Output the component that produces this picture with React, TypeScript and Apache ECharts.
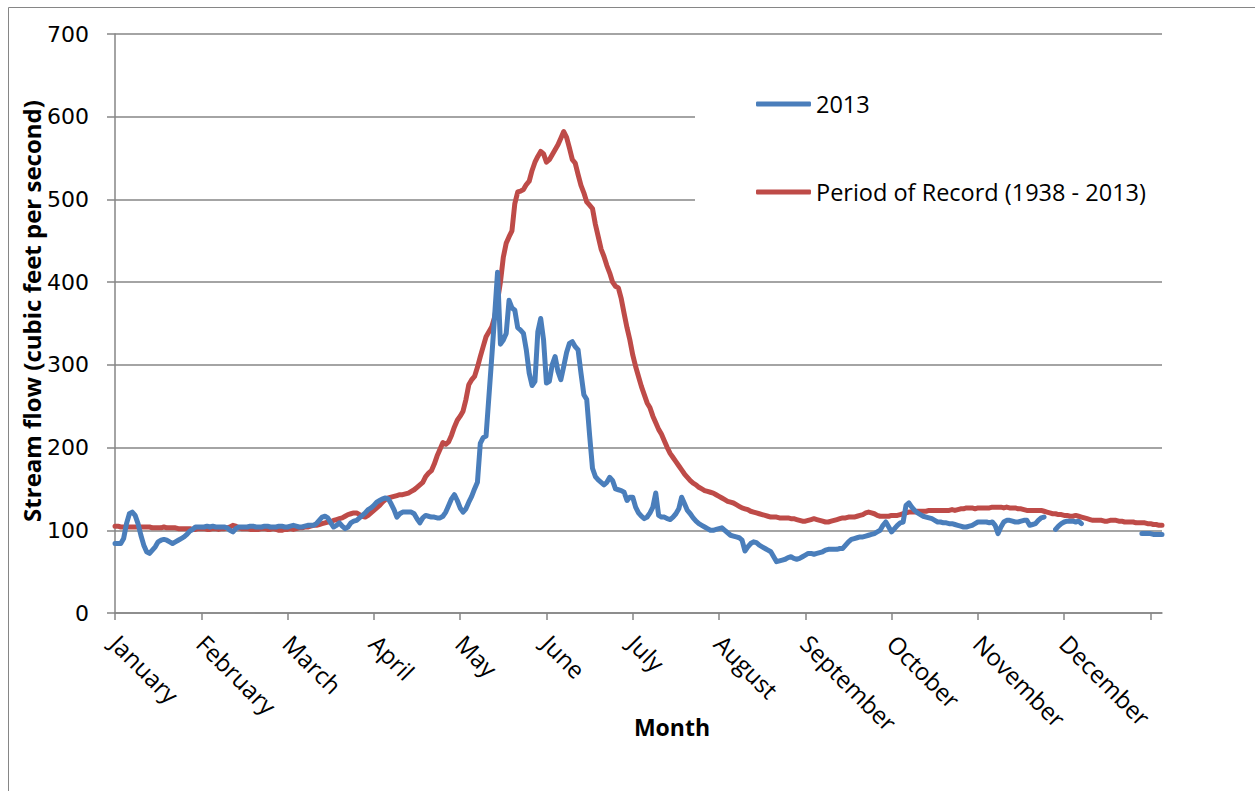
import React, { useEffect, useRef } from "react";
import * as echarts from "echarts";

const monthLabels = [
  "January", "February", "March", "April", "May", "June",
  "July", "August", "September", "October", "November", "December",
];

const yTicks = { min: 0, max: 700, step: 100 };

// Daily stream flow 2013 (cfs); null = missing record
const flow2013: (number | null)[] = [
  84, 84, 84, 90, 108, 120, 122, 118, 108, 94,
  82, 74, 72, 76, 80, 86, 88, 89, 88, 86,
  84, 86, 88, 90, 92, 95, 99, 101, 104, 104,
  104, 104, 105, 104, 105, 104, 104, 104, 104, 103,
  100, 98, 102, 104, 104, 104, 104, 105, 105, 104,
  104, 104, 105, 105, 104, 104, 104, 105, 105, 104,
  104, 105, 106, 105, 104, 104, 105, 106, 106, 106,
  108, 112, 116, 117, 115, 109, 104, 106, 109, 105,
  102, 104, 109, 111, 112, 115, 118, 121, 125, 127,
  130, 134, 136, 138, 139, 138, 132, 125, 116, 120,
  122, 122, 122, 122, 120, 114, 109, 115, 118, 117,
  116, 116, 115, 115, 117, 122, 130, 138, 143, 136,
  127, 122, 126, 134, 141, 150, 158, 205, 212, 214,
  262, 310, 360, 412, 325, 330, 338, 378, 369, 366,
  345, 342, 338, 318, 290, 275, 280, 340, 356, 330,
  278, 280, 300, 310, 292, 282, 298, 315, 326, 328,
  322, 318, 290, 264, 258, 215, 175, 165, 161, 158,
  155, 158, 164, 160, 150, 149, 148, 146, 136, 140,
  140, 128, 121, 117, 114, 116, 121, 128, 145, 118,
  116, 116, 114, 113, 116, 120, 126, 140, 132, 124,
  120, 115, 111, 108, 106, 104, 102, 100, 100, 101,
  102, 103, 100, 97, 94, 93, 92, 91, 88, 75,
  80, 84, 86, 85, 82, 80, 78, 76, 74, 68,
  62, 63, 64, 65, 67, 68, 66, 65, 66, 68,
  70, 72, 72, 71, 72, 73, 74, 76, 77, 77,
  77, 77, 78, 78, 82, 86, 89, 90, 91, 92,
  92, 93, 94, 95, 96, 98, 100, 106, 110, 104,
  98, 102, 106, 109, 110, 130, 133, 128, 124, 121,
  119, 117, 116, 115, 114, 112, 110, 110, 109, 109,
  108, 108, 107, 106, 105, 104, 104, 105, 106, 108,
  110, 110, 110, 110, 109, 110, 106, 96, 104, 110,
  112, 112, 111, 110, 110, 111, 112, 112, 106, 107,
  108, 112, 115, 116, null, null, null, 101, 105, 108,
  110, 111, 111, 111, 110, 111, 108, null, null, null,
  null, null, null, null, null, null, null, null, null, null,
  null, null, null, null, null, null, null, 96, 96, 96,
  96, 95, 95, 95, 95,
];

// Daily mean stream flow, period of record 1938 - 2013 (cfs)
const flowRecord: number[] = [
  105, 105, 104, 104, 104, 104, 104, 104, 104, 104,
  104, 104, 104, 103, 103, 103, 103, 104, 103, 103,
  103, 103, 102, 102, 102, 102, 102, 101, 101, 102,
  102, 102, 101, 101, 102, 102, 101, 102, 102, 103,
  104, 106, 105, 103, 102, 102, 102, 101, 101, 101,
  101, 102, 102, 101, 101, 102, 101, 100, 100, 101,
  101, 102, 101, 102, 103, 103, 104, 104, 105, 106,
  106, 107, 108, 109, 110, 110, 112, 113, 114, 115,
  117, 119, 120, 121, 121, 119, 117, 116, 118, 121,
  124, 127, 130, 134, 137, 139, 140, 141, 142, 143,
  143, 144, 145, 147, 149, 152, 155, 158, 165, 169,
  172, 180, 190, 198, 206, 204, 207, 215, 225, 233,
  238, 244, 258, 276, 282, 286, 297, 310, 322, 334,
  340, 346, 358, 378, 400, 430, 447, 455, 462, 495,
  509, 510, 512, 518, 522, 535, 545, 552, 558, 555,
  545, 548, 554, 560, 566, 574, 582, 575, 562, 548,
  544, 530, 517, 508, 497, 493, 489, 470, 455, 440,
  431, 420, 411, 400, 395, 393, 380, 362, 345, 330,
  312, 298, 286, 274, 264, 254, 248, 238, 230, 222,
  216, 208, 200, 193, 188, 183, 178, 173, 168, 164,
  160, 157, 155, 152, 150, 148, 147, 146, 145, 143,
  141, 139, 137, 135, 134, 133, 131, 129, 127, 126,
  125, 123, 122, 121, 120, 119, 118, 117, 116, 116,
  116, 115, 115, 115, 115, 114, 114, 113, 112, 111,
  111, 112, 113, 114, 113, 112, 111, 110, 110, 111,
  112, 113, 114, 115, 115, 116, 116, 116, 117, 118,
  119, 121, 122, 121, 120, 118, 117, 117, 117, 117,
  118, 118, 118, 119, 120, 121, 122, 122, 122, 123,
  123, 123, 123, 124, 124, 124, 124, 124, 124, 124,
  124, 125, 124, 125, 126, 126, 127, 127, 127, 126,
  127, 127, 127, 127, 127, 128, 128, 128, 128, 127,
  128, 127, 127, 127, 126, 126, 125, 124, 124, 124,
  124, 124, 124, 123, 122, 121, 120, 120, 119, 119,
  118, 118, 117, 117, 118, 117, 116, 115, 114, 113,
  112, 112, 112, 112, 111, 111, 112, 112, 112, 111,
  111, 110, 110, 110, 110, 109, 109, 109, 109, 108,
  108, 107, 107, 106, 106,
];

const seriesNames = ["2013", "Period of Record (1938 - 2013)"];
const seriesColors = ["#4A7EBB", "#BE4B48"];
const DAYS_PER_TICK = 30;

export default function App() {
  const ref = useRef<HTMLDivElement>(null);

  useEffect(() => {
    document.body.style.margin = "0";
    const chart = echarts.init(ref.current!, null, { renderer: "svg" });
    const grey = "#868686";
    const toPairs = (arr: (number | null)[]) =>
      arr.map((v, i) => [i, v === null ? "-" : v]);

    chart.setOption({
      animation: false,
      backgroundColor: "#ffffff",
      grid: { left: 115, top: 34, width: 1047, height: 579 },
      xAxis: {
        type: "value",
        min: 0,
        max: flowRecord.length - 1,
        interval: DAYS_PER_TICK,
        axisLine: { show: true, lineStyle: { color: grey, width: 1.5 } },
        axisTick: { show: true, length: 7, lineStyle: { color: grey, width: 1.5 } },
        splitLine: { show: false },
        axisLabel: {
          rotate: -45,
          margin: 26,
          color: "#000",
          fontFamily: "Open Sans",
          fontSize: 24,
          showMaxLabel: false,
          formatter: (v: number) => {
            const idx = Math.round(v / DAYS_PER_TICK);
            return v % DAYS_PER_TICK === 0 && idx < monthLabels.length ? monthLabels[idx] : "";
          },
        },
      },
      yAxis: {
        type: "value",
        min: yTicks.min,
        max: yTicks.max,
        interval: yTicks.step,
        axisLine: { show: true, lineStyle: { color: grey, width: 1.5 } },
        axisTick: { show: true, length: 8, lineStyle: { color: grey, width: 1.5 } },
        splitLine: { show: true, lineStyle: { color: grey, width: 1.5 } },
        axisLabel: {
          margin: 26,
          color: "#000",
          fontFamily: "DejaVu Sans",
          fontSize: 22,
        },
      },
      legend: {
        orient: "vertical",
        left: 756,
        top: 92,
        padding: 0,
        itemWidth: 55,
        itemHeight: 5,
        itemGap: 64,
        z: 10,
        icon: "roundRect",
        textStyle: {
          fontFamily: "Open Sans",
          fontSize: 23.5,
          color: "#000",
          lineHeight: 24,
        },
        data: seriesNames,
      },
      graphic: [
        {
          type: "rect",
          z: 0,
          silent: true,
          shape: { x: 8.5, y: 7.5, width: 2000, height: 2000 },
          style: { fill: "none", stroke: grey, lineWidth: 1 },
        },
        {
          type: "rect",
          z: 5,
          silent: true,
          shape: { x: 695, y: 45, width: 480, height: 200 },
          style: { fill: "#ffffff" },
        },
        {
          type: "text",
          z: 6,
          x: 672,
          y: 727,
          style: {
            text: "Month",
            fontFamily: "Open Sans",
            fontWeight: "bold",
            fontSize: 23,
            fill: "#000",
            align: "center",
            verticalAlign: "middle",
          },
        },
        {
          type: "text",
          z: 6,
          x: 31,
          y: 311,
          rotation: Math.PI / 2,
          style: {
            text: "Stream flow (cubic feet per second)",
            fontFamily: "Open Sans",
            fontWeight: "bold",
            fontSize: 24,
            fill: "#000",
            align: "center",
            verticalAlign: "middle",
          },
        },
      ],
      series: [
        {
          name: seriesNames[0],
          type: "line",
          data: toPairs(flow2013),
          symbol: "none",
          connectNulls: false,
          z: 3,
          lineStyle: { color: seriesColors[0], width: 5, join: "round", cap: "round" },
          itemStyle: { color: seriesColors[0] },
        },
        {
          name: seriesNames[1],
          type: "line",
          data: toPairs(flowRecord),
          symbol: "none",
          z: 2,
          lineStyle: { color: seriesColors[1], width: 5, join: "round", cap: "round" },
          itemStyle: { color: seriesColors[1] },
        },
      ],
    });
    return () => chart.dispose();
  }, []);

  return <div ref={ref} style={{ width: 1255, height: 791 }} />;
}
